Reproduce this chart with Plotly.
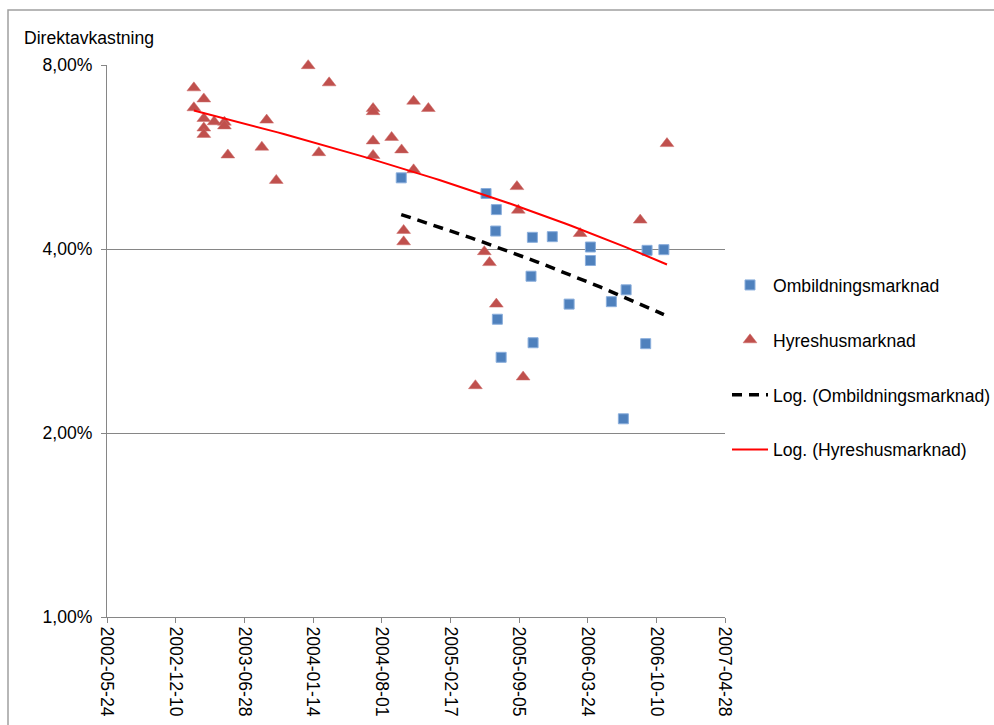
import numpy as np
import pandas as pd
import plotly.graph_objects as go

# --- data ---
hyres_dates = ["2003-02-01", "2003-03-02", "2003-02-01", "2003-03-02", "2003-04-01",
               "2003-05-01", "2003-05-01", "2003-03-02", "2003-03-02", "2003-09-01",
               "2003-08-18", "2003-05-11", "2003-09-29", "2003-12-31", "2004-03-01",
               "2004-01-31", "2004-07-07", "2004-07-07", "2004-07-07", "2004-07-07",
               "2004-08-30", "2004-09-28", "2004-11-02", "2004-12-15", "2004-11-02",
               "2004-10-04", "2004-10-04", "2005-08-30", "2005-09-03", "2005-05-27",
               "2005-06-11", "2005-07-01", "2006-03-02", "2006-08-24", "2006-11-10",
               "2005-05-01", "2005-09-17"]
hyres_values = [7.34, 7.04, 6.81, 6.54, 6.46,
                6.45, 6.36, 6.31, 6.16, 6.50,
                5.87, 5.70, 5.18, 7.98, 7.48,
                5.75, 6.79, 6.71, 6.01, 5.69,
                6.09, 5.81, 6.98, 6.79, 5.39,
                4.29, 4.11, 5.06, 4.63, 3.96,
                3.80, 3.25, 4.24, 4.46, 5.95,
                2.39, 2.47]

omb_dates = ["2004-09-27", "2005-06-01", "2005-07-01", "2005-06-29", "2005-10-14",
             "2005-12-11", "2006-04-01", "2006-04-01", "2005-10-10", "2006-01-29",
             "2006-06-01", "2006-07-14", "2005-07-04", "2005-07-15", "2005-10-16",
             "2006-09-09", "2006-09-13", "2006-11-01", "2006-07-06"]
omb_values = [5.23, 4.93, 4.64, 4.28, 4.18,
              4.19, 4.03, 3.83, 3.61, 3.25,
              3.28, 3.43, 3.07, 2.66, 2.81,
              2.80, 3.98, 3.99, 2.11]

x_tick_labels = ["2002-05-24", "2002-12-10", "2003-06-28", "2004-01-14", "2004-08-01",
                 "2005-02-17", "2005-09-05", "2006-03-24", "2006-10-10", "2007-04-28"]
y_tick_vals = [0.01, 0.02, 0.04, 0.08]
y_tick_text = ["1,00%", "2,00%", "4,00%", "8,00%"]

series_names = ["Ombildningsmarknad", "Hyreshusmarknad",
                "Log. (Ombildningsmarknad)", "Log. (Hyreshusmarknad)"]

# --- helpers ---
EXCEL_EPOCH = pd.Timestamp("1899-12-30")


def log_trend(dates, values_pct, n=80):
    """Excel-style logarithmic trendline y = c*ln(x) + b on date serial numbers."""
    d = pd.to_datetime(dates)
    serial = np.array([(t - EXCEL_EPOCH).days for t in d], dtype=float)
    y = np.array(values_pct) / 100.0
    c, b = np.polyfit(np.log(serial), y, 1)
    xs = np.linspace(serial.min(), serial.max(), n)
    ys = c * np.log(xs) + b
    xd = [EXCEL_EPOCH + pd.Timedelta(days=float(v)) for v in xs]
    return xd, ys


omb_tx, omb_ty = log_trend(omb_dates, omb_values)
hyr_tx, hyr_ty = log_trend(hyres_dates, hyres_values)

FONT = "Liberation Sans, Arial, sans-serif"
FS = 17.6
GRID = "#868686"

fig = go.Figure()

fig.add_trace(go.Scatter(
    x=pd.to_datetime(omb_dates), y=np.array(omb_values) / 100.0, mode="markers",
    name=series_names[0], legendgroup="a", cliponaxis=False,
    marker=dict(symbol="square", size=10, color="#4F81BD",
                line=dict(color="#8AAEDC", width=1)),
))
fig.add_trace(go.Scatter(
    x=pd.to_datetime(hyres_dates), y=np.array(hyres_values) / 100.0, mode="markers",
    name=series_names[1], legendgroup="b", cliponaxis=False,
    marker=dict(symbol="triangle-up", size=12, color="#C0504D",
                line=dict(color="#CC6B68", width=0.5)),
))
fig.add_trace(go.Scatter(
    x=omb_tx, y=omb_ty, mode="lines", name=series_names[2], legendgroup="c",
    line=dict(color="black", width=3.5, dash="10px,7px"),
))
fig.add_trace(go.Scatter(
    x=hyr_tx, y=hyr_ty, mode="lines", name=series_names[3], legendgroup="d",
    line=dict(color="#FF0000", width=2),
))

# plot area pixel geometry
L, R, T, B = 107, 725, 65, 617
W, H = 994, 725
pw, ph = R - L, B - T


def px(x):
    return (x - L) / pw


def py(y):
    return (B - y) / ph


fig.update_layout(
    width=W, height=H,
    margin=dict(l=L, r=W - R, t=T, b=H - B, pad=0, autoexpand=False),
    paper_bgcolor="white", plot_bgcolor="white",
    font=dict(family=FONT, size=FS, color="black"),
    showlegend=True,
    legend=dict(
        x=px(727), y=py(267), xanchor="left", yanchor="top",
        font=dict(family=FONT, size=FS, color="black"),
        tracegroupgap=29, bgcolor="rgba(0,0,0,0)", itemwidth=36,
    ),
    xaxis=dict(
        type="date",
        range=["2002-05-24", "2007-04-28"],
        tickmode="array",
        tickvals=x_tick_labels,
        ticktext=x_tick_labels,
        tickangle=90,
        showgrid=False, zeroline=False,
        showline=True, linecolor=GRID, linewidth=1,
        ticks="outside", ticklen=5, tickcolor=GRID, tickwidth=1,
        tickfont=dict(family=FONT, size=FS, color="black"),
    ),
    yaxis=dict(
        type="log",
        range=[np.log10(0.01), np.log10(0.08)],
        tickmode="array",
        tickvals=y_tick_vals,
        ticktext=y_tick_text,
        showgrid=True, gridcolor=GRID, gridwidth=1,
        zeroline=False,
        showline=True, linecolor=GRID, linewidth=1,
        ticks="outside", ticklen=5, tickcolor=GRID, tickwidth=1,
        ticklabelstandoff=5,
        tickfont=dict(family=FONT, size=FS, color="black"),
    ),
    annotations=[dict(
        text="Direktavkastning", xref="paper", yref="paper",
        x=px(22), y=py(38), xanchor="left", yanchor="middle",
        showarrow=False, font=dict(family=FONT, size=FS, color="black"),
    )],
    shapes=[dict(
        type="rect", xref="paper", yref="paper",
        x0=px(8), x1=px(1010), y0=py(740), y1=py(10),
        line=dict(color="#A0A0A0", width=1.5), fillcolor="rgba(0,0,0,0)",
        layer="below",
    )],
)

fig.write_html("out.html")
